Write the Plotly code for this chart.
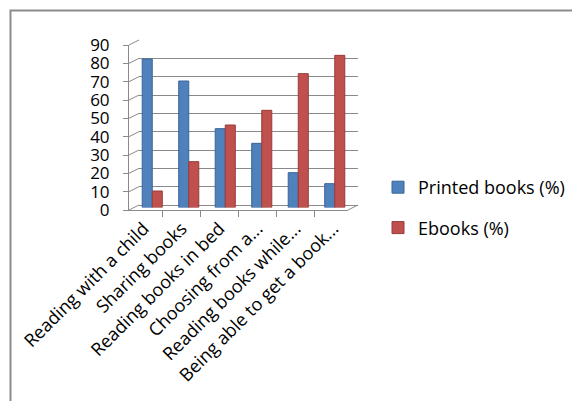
import plotly.graph_objects as go

# Survey data: share of respondents preferring each format for an activity
categories = [
    "Reading with a child",
    "Sharing books",
    "Reading books in bed",
    "Choosing from a...",
    "Reading books while...",
    "Being able to get a book...",
]
printed_pct = [81, 69, 43, 35, 19, 13]
ebook_pct = [9, 25, 45, 53, 73, 83]
y_ticks = list(range(0, 100, 10))

W, H = 572, 401
GRID = "#8a8a8a"
FONT = "Open Sans"


def px(x):
    return x / W


def py(y):
    return 1 - y / H


fig = go.Figure()

# Back wall (gridlines only)
fig.add_trace(go.Scatter(x=categories, y=[None] * len(categories), xaxis="x", yaxis="y",
                         showlegend=False, hoverinfo="skip"))
# Front axes carrying the tick labels
fig.add_trace(go.Scatter(x=categories, y=[None] * len(categories), xaxis="x2", yaxis="y2",
                         showlegend=False, hoverinfo="skip"))
# Columns, drawn last so they sit over the wall
fig.add_trace(go.Bar(name="Printed books (%)", x=categories, y=printed_pct,
                     xaxis="x3", yaxis="y3", legendgroup="p",
                     marker=dict(color="#4F81BD", line=dict(color="#3A6598", width=1))))
fig.add_trace(go.Bar(name="Ebooks (%)", x=categories, y=ebook_pct,
                     xaxis="x3", yaxis="y3", legendgroup="e",
                     marker=dict(color="#C0504D", line=dict(color="#963C3A", width=1))))

front_x = (129, 348)
front_y = (210, 45)
back_dx, back_dy = 10, -5

shapes = []
# side-wall diagonals joining the front axis to the back wall at each tick
for v in y_ticks:
    yf = front_y[0] + (front_y[1] - front_y[0]) * v / 90
    shapes.append(dict(type="line", xref="paper", yref="paper",
                       x0=px(front_x[0]), y0=py(yf),
                       x1=px(front_x[0] + back_dx), y1=py(yf + back_dy),
                       line=dict(color=GRID, width=1)))
# floor edge on the right
shapes.append(dict(type="line", xref="paper", yref="paper",
                   x0=px(front_x[1]), y0=py(front_y[0]),
                   x1=px(front_x[1] + back_dx), y1=py(front_y[0] + back_dy),
                   line=dict(color=GRID, width=1)))
# chart area border
shapes.append(dict(type="rect", xref="paper", yref="paper",
                   x0=px(10.5), y0=-0.1, x1=1.1, y1=py(10.5),
                   line=dict(color="#8c8c8c", width=2), fillcolor="rgba(0,0,0,0)"))

fig.update_layout(
    width=W, height=H,
    margin=dict(l=0, r=0, t=0, b=0, autoexpand=False),
    paper_bgcolor="white", plot_bgcolor="rgba(0,0,0,0)",
    font=dict(family=FONT, size=16, color="black"),
    barmode="group", bargap=0.45, bargroupgap=0,
    showlegend=True,
    legend=dict(x=px(378), y=py(169), xanchor="left", yanchor="top",
                font=dict(family=FONT, size=18, color="black"), tracegroupgap=14,
                itemwidth=30, bgcolor="rgba(0,0,0,0)"),
    shapes=shapes,
    xaxis=dict(domain=[px(front_x[0] + back_dx), px(front_x[1] + back_dx)],
               anchor="y", showticklabels=False, showgrid=False, zeroline=False,
               showline=False, ticks="", automargin=False),
    yaxis=dict(domain=[py(front_y[0] + back_dy), py(front_y[1] + back_dy)],
               anchor="x", range=[0, 90], tickvals=y_ticks, showticklabels=False,
               showgrid=True, gridcolor=GRID, gridwidth=1, zeroline=True,
               zerolinecolor=GRID, zerolinewidth=1, ticks="", showline=False,
               automargin=False),
    xaxis2=dict(domain=[px(front_x[0]), px(front_x[1])], anchor="y2",
                showgrid=False, zeroline=False, showline=True, linecolor=GRID,
                linewidth=1, ticks="outside", tickson="boundaries", ticklen=6,
                tickcolor=GRID, tickangle=-45, automargin=False,
                tickfont=dict(family=FONT, size=18, color="black")),
    yaxis2=dict(domain=[py(front_y[0]), py(front_y[1])], anchor="x2",
                range=[0, 90], tickvals=y_ticks, showgrid=False, zeroline=False,
                showline=True, linecolor=GRID, linewidth=1, ticks="outside",
                ticklen=5, tickcolor=GRID, ticklabelstandoff=10, automargin=False,
                tickfont=dict(family=FONT, size=17, color="black")),
    xaxis3=dict(domain=[px(front_x[0] + back_dx / 2), px(front_x[1] + back_dx / 2)],
                anchor="y3", visible=False, automargin=False),
    yaxis3=dict(domain=[py(front_y[0] + back_dy / 2), py(front_y[1] + back_dy / 2)],
                anchor="x3", range=[0, 90], visible=False, automargin=False),
)

fig.write_html("out.html")
